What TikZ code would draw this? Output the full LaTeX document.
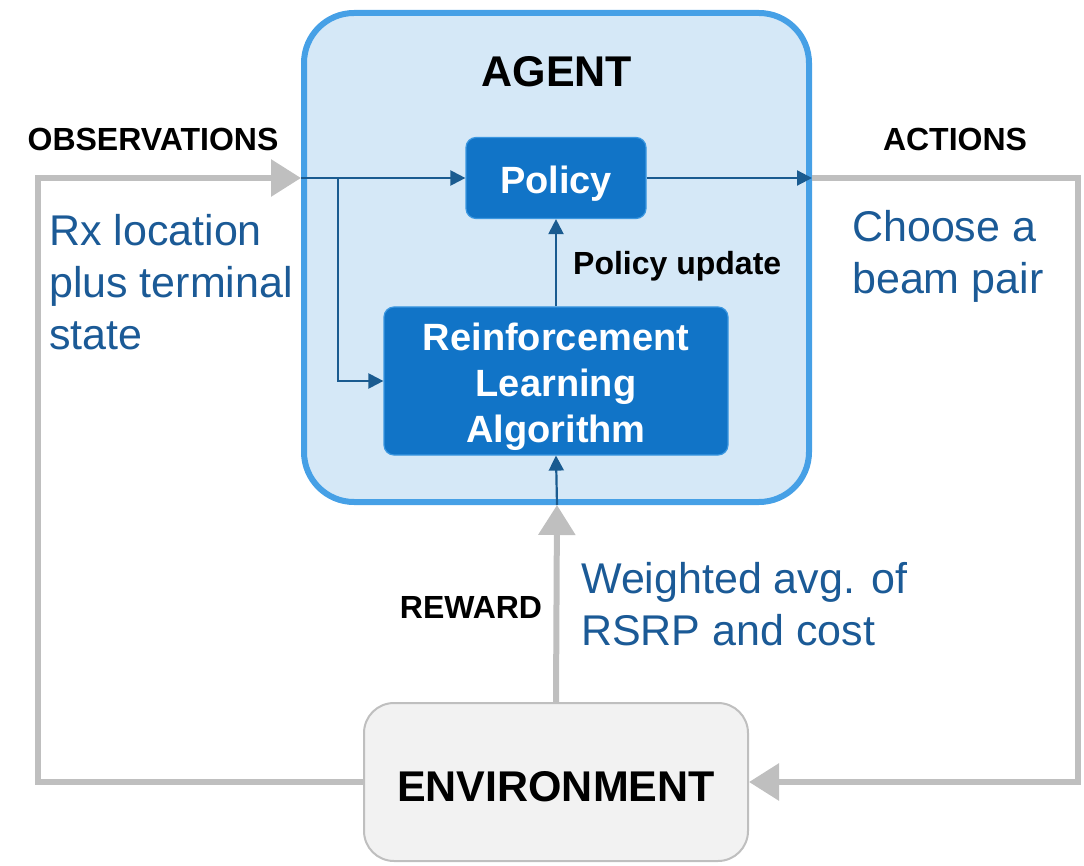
\documentclass[tikz,border=0pt]{standalone}
\usepackage{fontspec}
\setmainfont{Liberation Sans}
\usetikzlibrary{arrows.meta}
\definecolor{agentfill}{HTML}{D5E8F7}
\definecolor{agentline}{HTML}{46A0E6}
\definecolor{boxblue}{HTML}{1174C7}
\definecolor{flowblue}{HTML}{1A5B90}
\definecolor{textblue}{HTML}{1B5A96}
\definecolor{loopgray}{HTML}{BFBFBF}
\definecolor{envfill}{HTML}{F2F2F2}
\begin{document}
\begin{tikzpicture}[x=1pt, y=-1pt,
    blockbox/.style={draw=agentline!80!boxblue, line width=1.2pt, fill=boxblue, rounded corners=10pt, inner sep=0pt},
    blocktext/.style={text=white, font=\bfseries\fontsize{38}{46}\selectfont, align=center, inner sep=0pt, yshift=-6pt},
    flow/.style={draw=flowblue, line width=2.2pt, -{Triangle[length=15pt, width=15pt]}},
    loop/.style={draw=loopgray, line width=6pt, -{Triangle[length=30pt, width=36pt]}},
    caption/.style={font=\bfseries\fontsize{32}{38}\selectfont, inner sep=0pt},
    bluetext/.style={text=textblue, font=\fontsize{43}{52}\selectfont, align=left, inner sep=0pt, anchor=west}]
    \useasboundingbox (0,0) rectangle (1084,866);

    % 1. Agent frame
    \node[draw=agentline, line width=6pt, fill=agentfill, rounded corners=50pt,
        minimum width=505pt, minimum height=489pt] (agent) at (556.5,257.5) {};
    \node[font=\bfseries\fontsize{43}{50}\selectfont, inner sep=0pt] (agenttitle) at (557,72) {AGENT};

    % 2. Inner blocks
    \node[blockbox, minimum width=180pt, minimum height=81pt,
        label={[blocktext]center:Policy}] (policy) at (556,178) {};
    \node[blockbox, minimum width=344pt, minimum height=148pt,
        label={[blocktext]center:Reinforcement\\Learning\\Algorithm}] (rl) at (556,381) {};
    \node[caption, anchor=west] (update) at (573,266) {Policy update};

    % 3. Environment
    \node[draw=loopgray, line width=2pt, fill=envfill, rounded corners=30pt,
        minimum width=384pt, minimum height=158pt,
        label={[font=\bfseries\fontsize{43}{50}\selectfont, inner sep=0pt, yshift=-5pt]center:ENVIRONMENT}]
        (env) at (556,782) {};

    % 4. Connection points on the agent frame
    \coordinate (obsin) at (301,178);
    \coordinate (branch) at (338,178);
    \coordinate (actout) at (812,178);
    \coordinate (rewin) at (557,505);
    \coordinate (lefttop) at (38,178);
    \coordinate (leftbot) at (38,782);
    \coordinate (righttop) at (1078,178);
    \coordinate (rightbot) at (1078,782);

    % 5. Outer loop
    \draw[loop] (env.west) -- (leftbot) -- (lefttop) -- (obsin);
    \draw[loop] (actout) -- (righttop) -- (rightbot) -- (env.east);
    \draw[loop] (env.north) -- (rewin);

    % 6. Flows inside the agent
    \draw[flow] (obsin) -- (policy.west);
    \draw[flow] (branch) |- (rl.west);
    \draw[flow] (policy.east) -- (actout);
    \draw[flow] (rl.north) -- (policy.south);
    \draw[flow] (rewin) -- (rl.south);

    % 7. Labels
    \node[caption] (obslabel) at (153,139) {OBSERVATIONS};
    \node[caption] (actlabel) at (955,139) {ACTIONS};
    \node[caption] (rewlabel) at (471,607) {REWARD};
    \node[bluetext] (obstext) at (49,282) {Rx location\\plus terminal\\state};
    \node[bluetext] (acttext) at (852,256) {Choose a\\beam pair};
    \node[bluetext] (rewtext) at (581,604) {Weighted avg. of\\RSRP and cost};
\end{tikzpicture}
\end{document}
